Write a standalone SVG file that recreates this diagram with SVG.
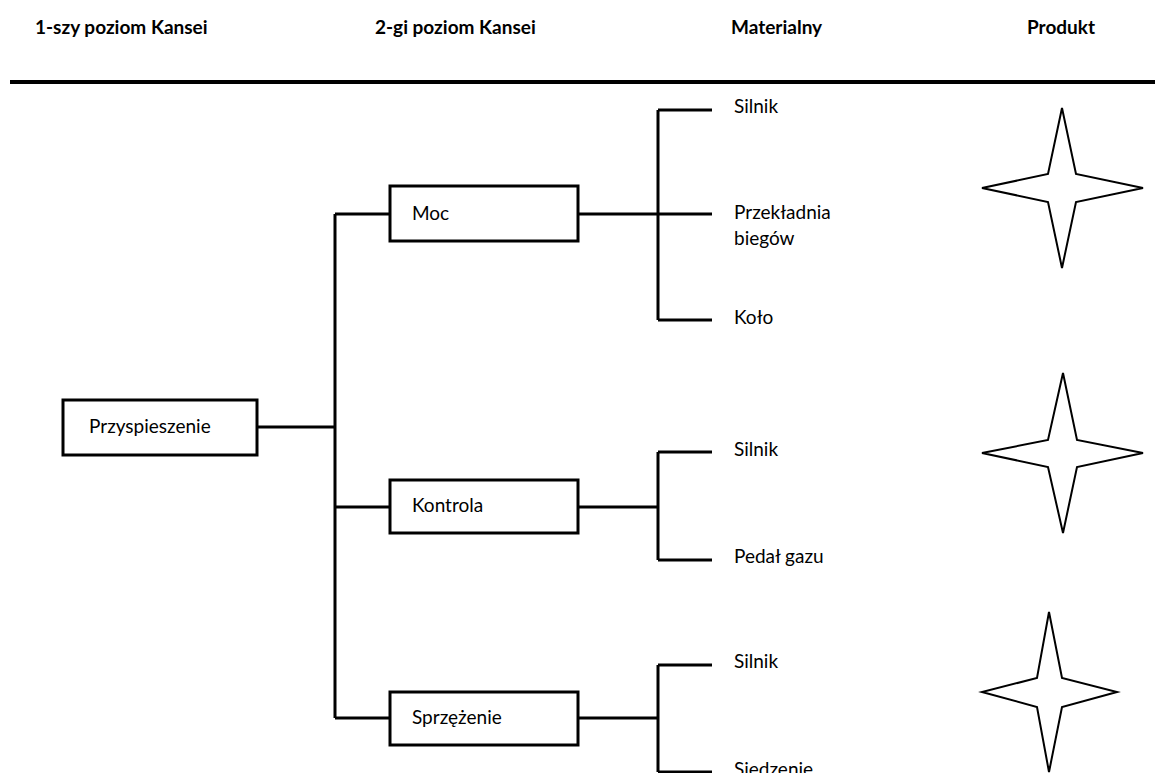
<svg xmlns="http://www.w3.org/2000/svg" width="1155" height="773" viewBox="0 0 1155 773">
<style>
.h{font-family:Lato,"Open Sans","Liberation Sans",sans-serif;font-weight:bold;font-size:19px;fill:#000}
.t{font-family:Lato,"Open Sans","Liberation Sans",sans-serif;font-size:19px;fill:#000}
.box{fill:#fff;stroke:#000;stroke-width:3}
.c{fill:none;stroke:#000;stroke-width:3}
.star{fill:#fff;stroke:#000;stroke-width:2;stroke-linejoin:miter}
</style>
<rect width="1155" height="773" fill="#fff"/>
<g id="headers">
<text class="h" x="35" y="34">1-szy poziom Kansei</text>
<text class="h" x="375" y="34">2-gi poziom Kansei</text>
<text class="h" x="731" y="34">Materialny</text>
<text class="h" x="1027" y="34">Produkt</text>
<line x1="10" y1="82" x2="1155" y2="82" stroke="#000" stroke-width="4"/>
</g>
<g id="connectors">
<path class="c" d="M257,427 H335 M335,214 V718 M335,214 H390 M335,507 H390 M335,718 H390"/>
<path class="c" d="M578,214 H712 M658,110 V320 M658,110 H712 M658,320 H712"/>
<path class="c" d="M578,507 H658 M658,452 V560 M658,452 H712 M658,560 H712"/>
<path class="c" d="M578,718 H658 M658,665 V772 M658,665 H712 M658,772 H712"/>
</g>
<g id="n-przyspieszenie"><rect class="box" x="63" y="400" width="194" height="55"/><text class="t" x="89" y="433">Przyspieszenie</text></g>
<g id="n-moc"><rect class="box" x="390" y="186" width="188" height="55"/><text class="t" x="412" y="220">Moc</text></g>
<g id="n-kontrola"><rect class="box" x="390" y="480" width="188" height="53"/><text class="t" x="412" y="512">Kontrola</text></g>
<g id="n-sprzezenie"><rect class="box" x="390" y="692" width="188" height="53"/><text class="t" x="412" y="724">Sprzężenie</text></g>
<g id="n-m1"><text class="t" x="734" y="113">Silnik</text></g>
<g id="n-m2"><text class="t" x="734" y="219">Przekładnia</text><text class="t" x="734" y="245">biegów</text></g>
<g id="n-m3"><text class="t" x="734" y="324">Koło</text></g>
<g id="n-m4"><text class="t" x="734" y="456">Silnik</text></g>
<g id="n-m5"><text class="t" x="734" y="563">Pedał gazu</text></g>
<g id="n-m6"><text class="t" x="734" y="668">Silnik</text></g>
<g id="n-m7"><text class="t" x="734" y="776">Siedzenie</text></g>
<g id="star1"><polygon class="star" points="1062,108 1076,174 1143,188 1076,202 1062,268 1048,202 982,188 1048,174"/></g>
<g id="star2"><polygon class="star" points="1063,373 1077,440 1143,453 1077,467 1063,533 1048,467 982,453 1048,440"/></g>
<g id="star3"><polygon class="star" points="1049,612 1062,678 1117,692 1062,707 1049,772 1037,707 982,692 1037,678"/></g>
</svg>
